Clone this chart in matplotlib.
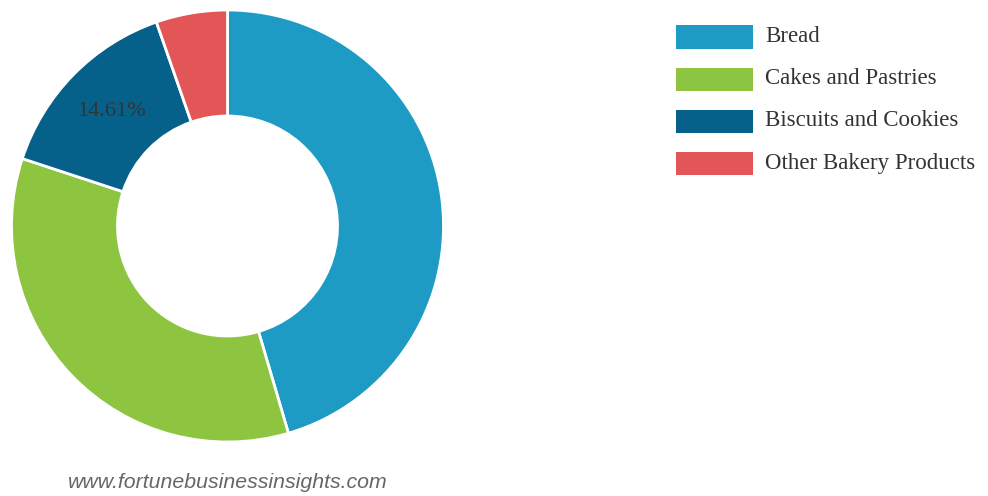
import numpy as np
import matplotlib.pyplot as plt
from matplotlib.patches import Rectangle

categories = ["Bread", "Cakes and Pastries", "Biscuits and Cookies", "Other Bakery Products"]
shares = [45.45, 34.6, 14.61, 5.34]
colors = ["#1e9bc4", "#8dc541", "#06618a", "#e35657"]
shown_label = "Biscuits and Cookies"

W, H = 988, 496
fig = plt.figure(figsize=(W / 100, H / 100), dpi=100)

# donut geometry in pixels
cx, cy, r_out, r_in = 227.5, 226, 216, 110
ax = fig.add_axes([(cx - r_out) / W, (H - cy - r_out) / H, 2 * r_out / W, 2 * r_out / H])

ring = 1 - r_in / r_out
wedges, _ = ax.pie(shares, colors=colors, startangle=90, counterclock=False, radius=1,
                   wedgeprops=dict(width=ring, edgecolor="white", linewidth=2))
ax.set_xlim(-1, 1)
ax.set_ylim(-1, 1)
ax.set_aspect("equal")
ax.axis("off")

for w, name, v in zip(wedges, categories, shares):
    if name != shown_label:
        continue
    mid = np.deg2rad((w.theta1 + w.theta2) / 2)
    rr = 1 - ring / 2
    ax.text(rr * np.cos(mid), rr * np.sin(mid), f"{v:.2f}%", ha="center", va="center",
            fontsize=16, family="Liberation Serif", color="#333333")

# legend
for i, (name, c) in enumerate(zip(categories, colors)):
    yc = 37 + 42 * i
    fig.patches.append(Rectangle((676 / W, 1 - (yc + 11.5) / H), 77 / W, 23 / H,
                                 transform=fig.transFigure, facecolor=c, edgecolor="none"))
    fig.text(765 / W, 1 - yc / H, name, ha="left", va="center", fontsize=16.5,
             family="Liberation Serif", color="#333333")

fig.text(68 / W, 1 - 483 / H, "www.fortunebusinessinsights.com", ha="left", va="center",
         fontsize=15.3, family="Liberation Sans", style="italic", color="#666666")

fig.savefig("out.png", dpi=100)
